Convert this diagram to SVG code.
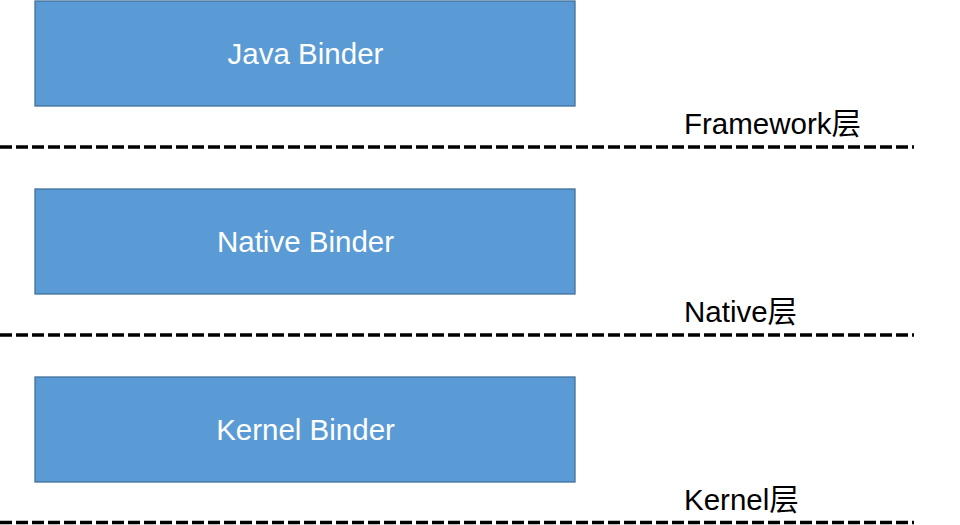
<svg xmlns="http://www.w3.org/2000/svg" width="960" height="525" viewBox="0 0 960 525">
<style>
.box{fill:#5b9bd5;stroke:#41719c;stroke-width:1.3}
.bt{font-family:"Liberation Sans",Arial,sans-serif;font-size:29.5px;fill:#ffffff;text-anchor:middle}
.lt{font-family:"Liberation Sans","Noto Sans CJK SC",sans-serif;font-size:29.5px;fill:#000000}
.dl{stroke:#000000;stroke-width:3.3;stroke-dasharray:12 4;fill:none}
</style>
<rect width="960" height="525" fill="#ffffff"/>
<g id="connectors">
<line class="dl" x1="0" y1="147" x2="914" y2="147"/>
<line class="dl" x1="0" y1="335" x2="914" y2="335"/>
<line class="dl" x1="0" y1="522.5" x2="914" y2="522.5"/>
</g>
<g id="java-binder">
<rect class="box" x="35" y="1" width="540" height="105"/>
<text class="bt" x="305.5" y="64">Java Binder</text>
</g>
<g id="native-binder">
<rect class="box" x="35" y="189" width="540" height="105"/>
<text class="bt" x="305.5" y="252">Native Binder</text>
</g>
<g id="kernel-binder">
<rect class="box" x="35" y="377" width="540" height="105"/>
<text class="bt" x="305.5" y="440">Kernel Binder</text>
</g>
<g id="framework-label"><text class="lt" x="684" y="134">Framework层</text></g>
<g id="native-label"><text class="lt" x="684" y="322">Native层</text></g>
<g id="kernel-label"><text class="lt" x="684" y="510">Kernel层</text></g>
</svg>
